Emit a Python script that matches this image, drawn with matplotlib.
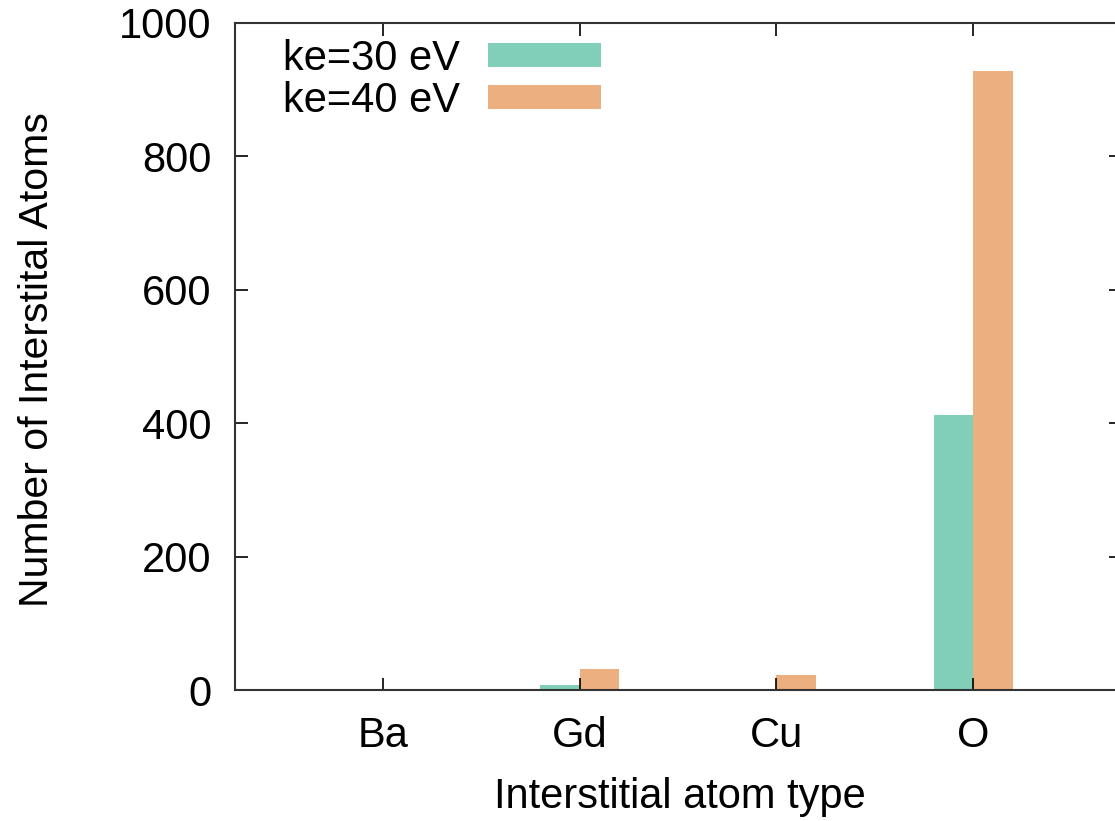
import numpy as np
import matplotlib
matplotlib.use("Agg")
import matplotlib.pyplot as plt
from matplotlib.patches import Patch

plt.rcParams['font.family'] = ['Liberation Sans', 'DejaVu Sans']

# interstitial counts per atom type
atom_types = ["Ba", "Gd", "Cu", "O"]
ke30 = [0, 7, 0, 412]
ke40 = [0, 31, 22, 928]
series_labels = ["ke=30 eV", "ke=40 eV"]

green = '#81cfb9'
orange = '#ecaf7f'
fs = 30

fig = plt.figure(figsize=(11.15, 8.21), dpi=100)
# right spine sits just past the figure edge
ax = fig.add_axes([235/1115, 1 - 690/821, (1121 - 235)/1115, (690 - 23)/821])

x = np.arange(len(atom_types))
w = 0.2
ax.bar(x - w/2, ke30, width=w, color=green, linewidth=0)
ax.bar(x + w/2, ke40, width=w, color=orange, linewidth=0)

ax.set_xlim(-0.75, 3.75)
ax.set_ylim(0, 1000)
ax.set_yticks(range(0, 1001, 200))
ax.set_xticks(x)
ax.set_xticklabels(atom_types)
ax.tick_params(direction='in', top=True, right=True, length=9, width=1.2,
               labelsize=fs)
ax.tick_params(axis='y', pad=17)
ax.tick_params(axis='x', pad=19)
for s in ax.spines.values():
    s.set_linewidth(1.5)
    s.set_color('#333333')

ax.set_xlabel("Interstitial atom type", fontsize=fs, va='center')
ax.set_ylabel("Number of Interstital Atoms", fontsize=29.5, va='center')
ax.xaxis.set_label_coords((680 - 235)/886, -(797 - 690)/667)
ax.yaxis.set_label_coords(-(235 - 37)/886, (690 - 360)/667)

handles = [Patch(facecolor=green, linewidth=0), Patch(facecolor=orange, linewidth=0)]
ax.legend(handles, series_labels, loc='upper left', bbox_to_anchor=(0.031, 1.0075),
          frameon=False, fontsize=fs, markerfirst=False, handlelength=2.7,
          handleheight=0.5, labelspacing=0.05, handletextpad=0.67, borderpad=0)

fig.savefig("out.png", dpi=100)
